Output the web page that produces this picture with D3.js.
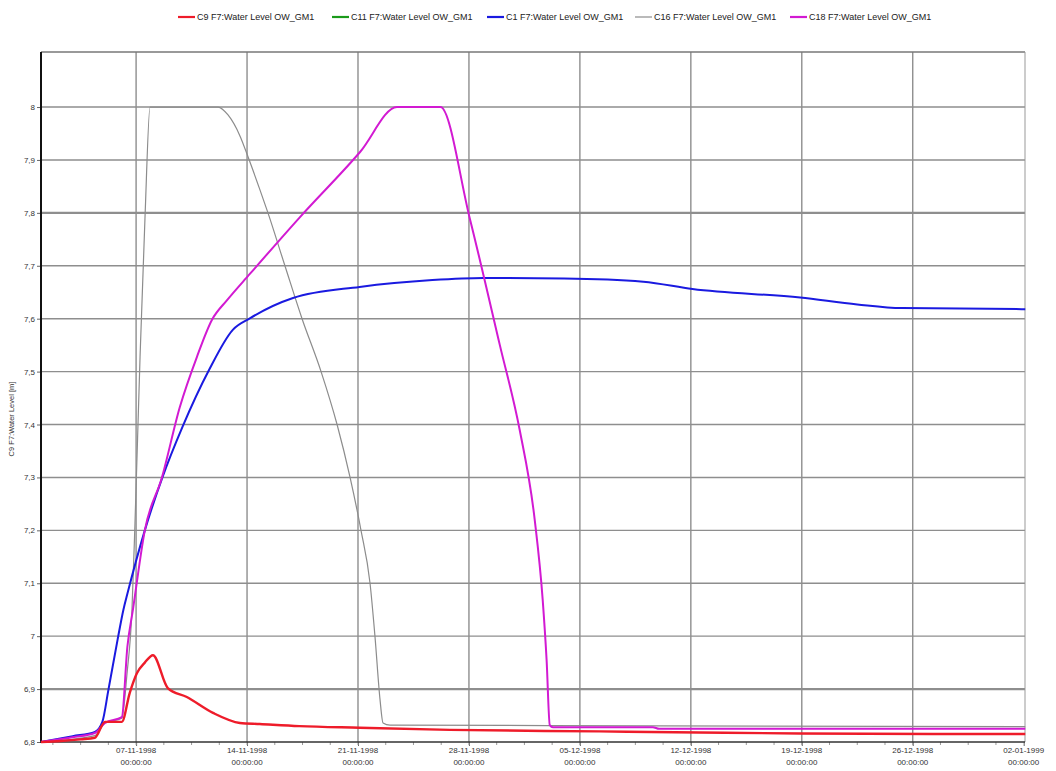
<!DOCTYPE html>
<html><head><meta charset="utf-8">
<script src="https://cdn.jsdelivr.net/npm/d3@7"></script>
<style>
html,body{margin:0;padding:0;background:#fff;}
svg{display:block;font-family:"Liberation Sans",Arial,sans-serif;}
</style></head>
<body><svg id="chart" width="1056" height="771"></svg>
<script>
// ---- data (time in days after 01-11-1998 00:00, water level in m) ----
const startDate = "1998-11-01T00:00:00Z";
const endDate = "1999-01-02T02:00:00Z";
const seriesNames = ["C9 F7:Water Level OW_GM1","C11 F7:Water Level OW_GM1","C1 F7:Water Level OW_GM1","C16 F7:Water Level OW_GM1","C18 F7:Water Level OW_GM1"];
const seriesColors = ["#ee1c2a","#1a9a1a","#1a1ae0","#8c8c8c","#d21ad2"];

const c9Days   = [0,1.25,2.5,3.4,4.04,5.1,5.6,6.05,6.55,7.06,8.0,9.2,10.85,12.55,13.8,16.3,20.1,25.8,35.25,41.5,47.9,62.1];
const c9Vals   = [6.800,6.802,6.805,6.808,6.838,6.838,6.893,6.930,6.950,6.964,6.902,6.885,6.855,6.836,6.834,6.830,6.827,6.823,6.820,6.818,6.816,6.815];

const c11Days  = [];
const c11Vals  = [];

const c1Days   = [0,2.0,3.4,3.87,4.25,4.83,5.2,5.45,6.55,7.66,8.92,10.6,12.1,13.2,15.9,20.1,24.7,27.9,33.0,38.0,41.1,47.9,51.5,54.3,62.1];
const c1Vals   = [6.800,6.811,6.819,6.838,6.898,6.993,7.050,7.080,7.200,7.300,7.395,7.503,7.579,7.601,7.639,7.660,7.673,7.677,7.676,7.670,7.656,7.640,7.627,7.620,7.618];

const c16Days  = [0,3.4,4.04,5.1,5.43,5.74,5.93,6.25,6.56,6.88,11.17,11.8,12.56,13.06,13.82,14.32,15.39,16.47,17.67,18.68,19.5,20.19,20.76,21.07,21.39,21.58,22.02,32.0,62.1];
const c16Vals  = [6.800,6.812,6.836,6.845,6.930,7.050,7.214,7.528,7.790,8.000,8.000,7.985,7.945,7.906,7.843,7.800,7.700,7.600,7.500,7.400,7.300,7.200,7.100,7.000,6.880,6.836,6.832,6.831,6.829];

const c18Days  = [0,2.0,3.4,4.04,5.1,5.45,5.8,6.55,7.63,8.76,9.84,10.79,11.74,13.19,16.34,20.13,22.46,25.2,27.05,28.95,30.2,31.15,31.65,31.9,32.1,32.3,38.6,39.0,62.1];
const c18Vals  = [6.800,6.809,6.817,6.836,6.847,6.980,7.050,7.200,7.300,7.433,7.528,7.598,7.635,7.685,7.792,7.915,8.000,8.000,7.790,7.550,7.390,7.220,7.070,6.955,6.832,6.828,6.828,6.825,6.825];

const yTicks = [6.8,6.9,7.0,7.1,7.2,7.3,7.4,7.5,7.6,7.7,7.8,7.9,8.0];
const yTickLabels = ["6,8","6,9","7","7,1","7,2","7,3","7,4","7,5","7,6","7,7","7,8","7,9","8"];
const xTickDates = ["1998-11-07","1998-11-14","1998-11-21","1998-11-28","1998-12-05","1998-12-12","1998-12-19","1998-12-26","1999-01-02"];
const xTickLabels = [["07-11-1998","00:00:00"],["14-11-1998","00:00:00"],["21-11-1998","00:00:00"],["28-11-1998","00:00:00"],["05-12-1998","00:00:00"],["12-12-1998","00:00:00"],["19-12-1998","00:00:00"],["26-12-1998","00:00:00"],["02-01-1999","00:00:00"]];
const yTitle = "C9 F7:Water Level [m]";

// ---- layout ----
const L = 41, R = 1025, T = 52, B = 742;
const svg = d3.select("#chart");
const t0 = new Date(startDate).getTime();
const toDate = d => new Date(t0 + d * 864e5);

const x = d3.scaleUtc().domain([new Date(startDate), new Date(endDate)]).range([L, R]);
const y = d3.scaleLinear().domain([6.8, 8.104]).range([B, T]);

// grid
const grid = svg.append("g");
grid.selectAll("line.h").data(yTicks.slice(1)).join("line")
  .attr("x1", L).attr("x2", R).attr("y1", d => y(d)).attr("y2", d => y(d))
  .attr("stroke", "#8e8e8e").attr("stroke-width", d => (Math.abs(d-7.8)<1e-6||Math.abs(d-6.9)<1e-6) ? 2.4 : 1.4);
grid.selectAll("line.v").data(xTickDates.slice(0,-1)).join("line")
  .attr("x1", d => x(new Date(d+"T00:00:00Z"))).attr("x2", d => x(new Date(d+"T00:00:00Z")))
  .attr("y1", T).attr("y2", B)
  .attr("stroke", "#8e8e8e").attr("stroke-width", 1.4);
// frame top/right
svg.append("line").attr("x1", L).attr("x2", R).attr("y1", T).attr("y2", T).attr("stroke", "#777").attr("stroke-width", 1.4);
svg.append("line").attr("x1", R).attr("x2", R).attr("y1", T).attr("y2", B).attr("stroke", "#999").attr("stroke-width", 1);

// axes
const yAxis = d3.axisLeft(y).tickValues(yTicks).tickSize(4).tickPadding(2)
  .tickFormat((d,i) => yTickLabels[i]);
const gy = svg.append("g").attr("transform", `translate(${L},0)`).call(yAxis);
gy.select(".domain").remove();
gy.selectAll("text").attr("font-size", 8).attr("fill", "#333");
gy.selectAll("line").attr("stroke", "#666");

const xAxis = d3.axisBottom(x).tickValues(xTickDates.map(d => new Date(d+"T00:00:00Z"))).tickSize(4).tickFormat("");
const gx = svg.append("g").attr("transform", `translate(0,${B})`).call(xAxis);
gx.select(".domain").remove();
gx.selectAll("line").attr("stroke", "#666");
// minor ticks every 1.75 days
const minor = [];
for (let k = -3; k <= 32; k++) { const d = 6 + k*1.75; if (d > 0.2 && d < 62) minor.push(toDate(d)); }
gx.selectAll("line.minor").data(minor).join("line").attr("class","minor")
  .attr("x1", d => x(d)).attr("x2", d => x(d)).attr("y1", 0).attr("y2", 3).attr("stroke", "#999");
const lbl = gx.selectAll("g.lbl").data(xTickDates).join("g").attr("class","lbl")
  .attr("transform", d => `translate(${x(new Date(d+"T00:00:00Z"))},0)`);
lbl.append("text").attr("y", 11).attr("text-anchor","middle").attr("font-size",8).attr("fill","#333")
  .text((d,i) => xTickLabels[i][0]);
lbl.append("text").attr("y", 23).attr("text-anchor","middle").attr("font-size",8).attr("fill","#333")
  .text((d,i) => xTickLabels[i][1]);

// axis lines
svg.append("line").attr("x1", L).attr("x2", L).attr("y1", T).attr("y2", B+1).attr("stroke", "#111").attr("stroke-width", 2);
svg.append("line").attr("x1", L-1).attr("x2", R).attr("y1", B).attr("y2", B).attr("stroke", "#333").attr("stroke-width", 1.4);

// y title
svg.append("text").attr("transform", `translate(14,${(T+B)/2+22}) rotate(-90)`)
  .attr("text-anchor","middle").attr("font-size",7.5).attr("fill","#333").text(yTitle);

// lines
const line = d3.line().curve(d3.curveMonotoneX).x(d => x(toDate(d[0]))).y(d => y(d[1]));
const series = [
  {days:c16Days, vals:c16Vals, color:seriesColors[3], w:1.2},
  {days:c11Days, vals:c11Vals, color:seriesColors[1], w:2},
  {days:c1Days,  vals:c1Vals,  color:seriesColors[2], w:2},
  {days:c18Days, vals:c18Vals, color:seriesColors[4], w:2},
  {days:c9Days,  vals:c9Vals,  color:seriesColors[0], w:2.4}
];
const plot = svg.append("g");
series.forEach(s => {
  if (!s.days.length) return;
  plot.append("path").datum(s.days.map((d,i) => [d, s.vals[i]]))
    .attr("d", line).attr("fill","none").attr("stroke", s.color)
    .attr("stroke-width", s.w).attr("stroke-linejoin","round");
});

// legend
const legX = [178, 332, 487, 635, 790];
const leg = svg.append("g");
seriesNames.forEach((n,i) => {
  leg.append("line").attr("x1", legX[i]).attr("x2", legX[i]+17).attr("y1", 17).attr("y2", 17)
    .attr("stroke", seriesColors[i]).attr("stroke-width", i===3 ? 1.2 : 2.2);
  leg.append("text").attr("x", legX[i]+19).attr("y", 20).attr("font-size", 9).attr("fill","#222").text(n);
});
</script></body></html>
